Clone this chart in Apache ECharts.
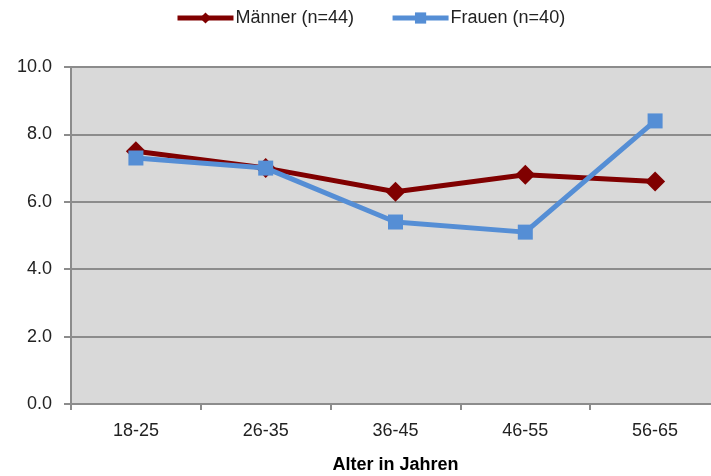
<!DOCTYPE html>
<html>
<head>
<meta charset="utf-8">
<script src="https://cdn.jsdelivr.net/npm/echarts@6/dist/echarts.min.js"></script>
<style>
  html, body { margin: 0; padding: 0; background: #fff; }
  #chart { width: 711px; height: 476px; }
</style>
</head>
<body>
<div id="chart"></div>
<script>
// Altersgruppen
const categories = ["18-25", "26-35", "36-45", "46-55", "56-65"];
const maenner = [7.5, 7.0, 6.3, 6.8, 6.6];
const frauen = [7.3, 7.0, 5.4, 5.1, 8.4];
const seriesNames = ["Männer (n=44)", "Frauen (n=40)"];

const chart = echarts.init(document.getElementById("chart"));
const fontFamily = "Liberation Sans, Arial, sans-serif";

chart.setOption({
  animation: false,
  textStyle: { fontFamily: fontFamily },
  legend: {
    top: 4,
    left: 170,
    itemWidth: 56,
    itemHeight: 14,
    itemGap: 36,
    lineStyle: { width: 5 },
    textStyle: { fontSize: 18, color: "#222", padding: [0, 0, 0, -3] },
    data: seriesNames
  },
  grid: {
    left: 71,
    width: 649,
    top: 67,
    height: 337,
    outerBoundsMode: "none",
    containLabel: false,
    show: true,
    backgroundColor: "#d9d9d9",
    borderWidth: 0
  },
  xAxis: {
    type: "category",
    data: categories,
    boundaryGap: true,
    name: "Alter in Jahren",
    nameLocation: "middle",
    nameGap: 52,
    nameTextStyle: { fontSize: 18, fontWeight: "bold", color: "#000" },
    axisLine: { lineStyle: { color: "#8c8c8c", width: 2 } },
    axisTick: { show: true, length: 6, lineStyle: { color: "#8c8c8c", width: 2 } },
    axisLabel: { fontSize: 18, color: "#222", margin: 18 }
  },
  yAxis: {
    type: "value",
    min: 0,
    max: 10,
    interval: 2,
    axisLine: { show: true, lineStyle: { color: "#8c8c8c", width: 2 } },
    axisTick: { show: true, length: 7, lineStyle: { color: "#8c8c8c", width: 2 } },
    splitLine: { lineStyle: { color: "#8c8c8c", width: 2 } },
    axisLabel: {
      fontSize: 18,
      color: "#222",
      margin: 19,
      formatter: function (v) { return v.toFixed(1); }
    }
  },
  series: [
    {
      name: seriesNames[0],
      type: "line",
      data: maenner,
      symbol: "diamond",
      symbolSize: 20,
      color: "#800000",
      lineStyle: { width: 5, color: "#800000" },
      itemStyle: { color: "#800000" },
      z: 3
    },
    {
      name: seriesNames[1],
      type: "line",
      data: frauen,
      symbol: "rect",
      symbolSize: 15,
      color: "#558ed5",
      lineStyle: { width: 5, color: "#558ed5" },
      itemStyle: { color: "#558ed5" },
      z: 4
    }
  ]
});
</script>
</body>
</html>
